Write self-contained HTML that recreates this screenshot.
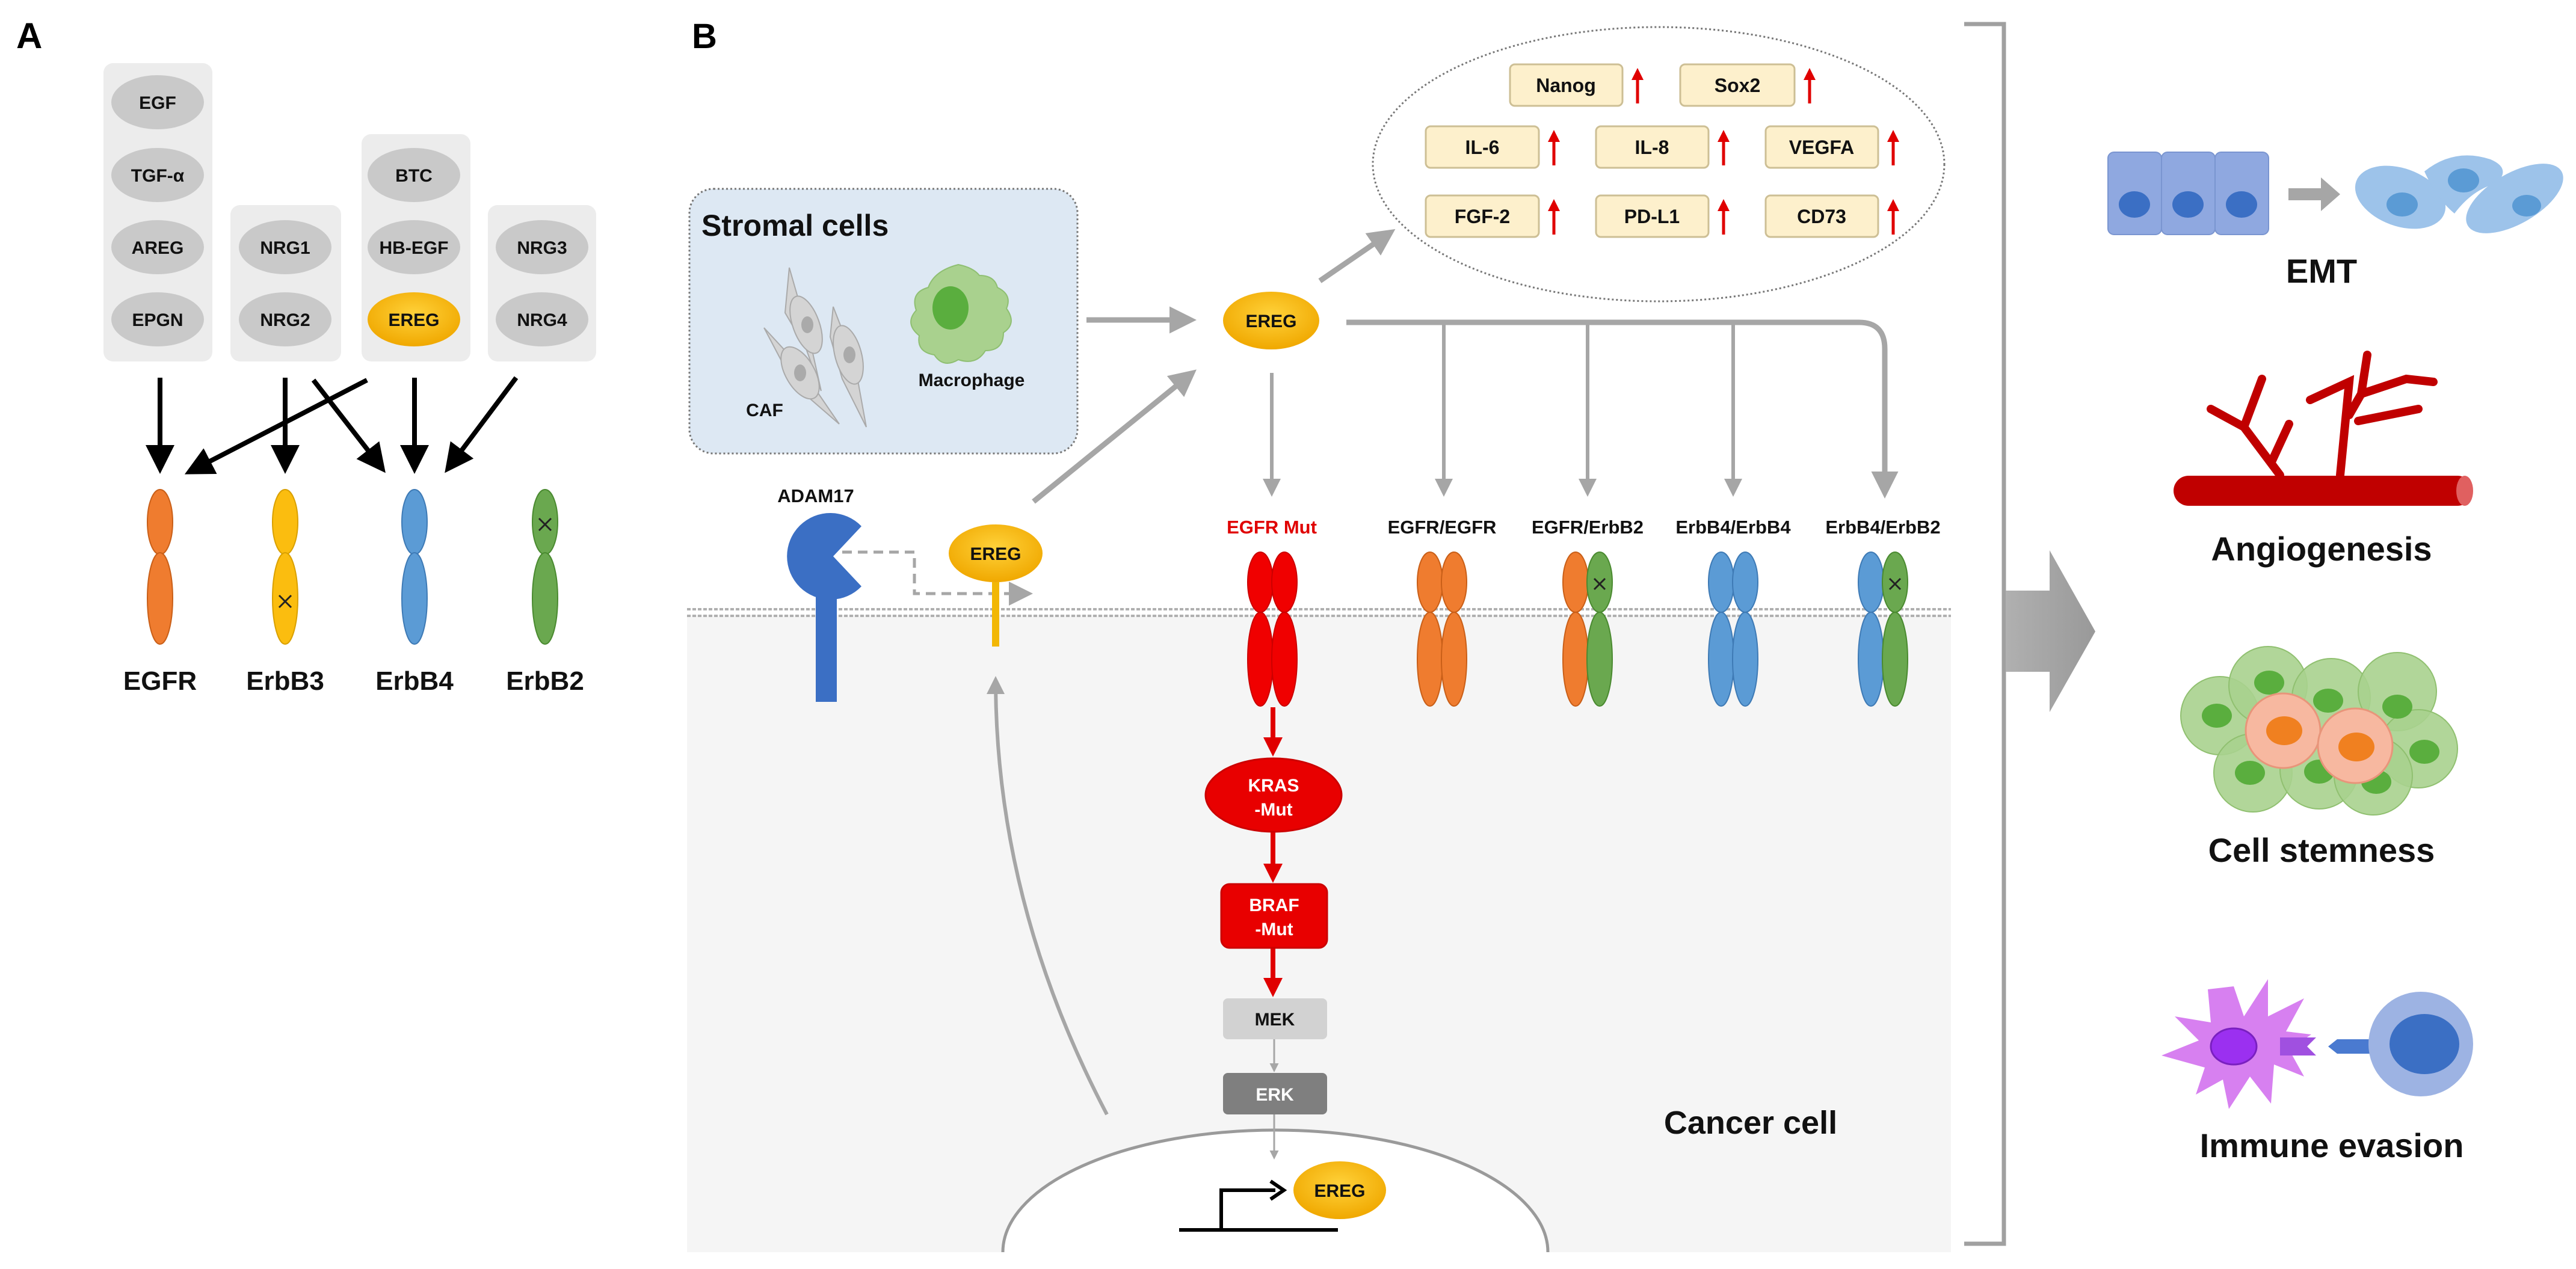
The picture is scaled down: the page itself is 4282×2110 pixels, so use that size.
<!DOCTYPE html>
<html><head><meta charset="utf-8"><style>
html,body{margin:0;padding:0;background:#fff;}
svg{display:block;font-family:"Liberation Sans",Arial,sans-serif;font-weight:bold;}
</style></head><body>
<svg width="4282" height="2110" viewBox="0 0 4282 2110" xmlns="http://www.w3.org/2000/svg">
<defs>
<marker id="ab" markerWidth="6" markerHeight="6" refX="5" refY="3" orient="auto" markerUnits="strokeWidth"><path d="M0,0 L6,3 L0,6 z" fill="#000"/></marker>
<marker id="ag" markerWidth="5" markerHeight="5" refX="4" refY="2.5" orient="auto" markerUnits="strokeWidth"><path d="M0,0 L5,2.5 L0,5 z" fill="#a6a6a6"/></marker>
<marker id="agt" markerWidth="8" markerHeight="8" refX="7" refY="4" orient="auto" markerUnits="strokeWidth"><path d="M0,0 L8,4 L0,8 z" fill="#a6a6a6"/></marker>
<marker id="ar" markerWidth="4" markerHeight="4" refX="3" refY="2" orient="auto" markerUnits="strokeWidth"><path d="M0,0 L4,2 L0,4 z" fill="#e00000"/></marker>
<marker id="ak" markerWidth="5" markerHeight="5" refX="4" refY="2.5" orient="auto" markerUnits="strokeWidth"><path d="M0,0 L5,2.5 L0,5 z" fill="#000"/></marker>
<radialGradient id="yg" cx="50%" cy="40%" r="60%"><stop offset="0" stop-color="#ffd23a"/><stop offset="1" stop-color="#f0a800"/></radialGradient>
<linearGradient id="bg" x1="0" x2="1"><stop offset="0" stop-color="#b0b0b0"/><stop offset="1" stop-color="#999"/></linearGradient>
</defs>

<!-- Panel A -->
<text x="27" y="80" font-size="60">A</text>
<g fill="#ececec">
<rect x="172" y="105" width="181" height="496" rx="16"/>
<rect x="383" y="341" width="184" height="260" rx="16"/>
<rect x="601" y="223" width="181" height="378" rx="16"/>
<rect x="811" y="341" width="180" height="260" rx="16"/>
</g>
<g fill="#c9c9c9">
<ellipse cx="262" cy="170" rx="77" ry="45"/><ellipse cx="262" cy="291" rx="77" ry="45"/>
<ellipse cx="262" cy="411" rx="77" ry="45"/><ellipse cx="262" cy="531" rx="77" ry="45"/>
<ellipse cx="474" cy="411" rx="77" ry="45"/><ellipse cx="474" cy="531" rx="77" ry="45"/>
<ellipse cx="688" cy="291" rx="77" ry="45"/><ellipse cx="688" cy="411" rx="77" ry="45"/>
<ellipse cx="901" cy="411" rx="77" ry="45"/><ellipse cx="901" cy="531" rx="77" ry="45"/>
</g>
<ellipse cx="688" cy="531" rx="77" ry="45" fill="url(#yg)"/>
<g font-size="30" text-anchor="middle" fill="#111">
<text x="262" y="181">EGF</text><text x="262" y="302">TGF-α</text><text x="262" y="422">AREG</text><text x="262" y="542">EPGN</text>
<text x="474" y="422">NRG1</text><text x="474" y="542">NRG2</text>
<text x="688" y="302">BTC</text><text x="688" y="422">HB-EGF</text><text x="688" y="542">EREG</text>
<text x="901" y="422">NRG3</text><text x="901" y="542">NRG4</text>
</g>
<g stroke="#000" stroke-width="8" marker-end="url(#ab)">
<line x1="266" y1="628" x2="266" y2="780"/>
<line x1="610" y1="632" x2="314" y2="785"/>
<line x1="474" y1="628" x2="474" y2="780"/>
<line x1="521" y1="632" x2="636" y2="780"/>
<line x1="689" y1="628" x2="689" y2="780"/>
<line x1="858" y1="628" x2="744" y2="780"/>
</g>
<g stroke-width="2">
<ellipse cx="266" cy="868" rx="21" ry="54" fill="#ef7c2f" stroke="#c95f18"/><ellipse cx="266" cy="995" rx="21" ry="76" fill="#ef7c2f" stroke="#c95f18"/>
<ellipse cx="474" cy="868" rx="21" ry="54" fill="#fbbd0f" stroke="#d9a000"/><ellipse cx="474" cy="995" rx="21" ry="76" fill="#fbbd0f" stroke="#d9a000"/>
<ellipse cx="689" cy="868" rx="21" ry="54" fill="#5b9bd5" stroke="#3e7ab5"/><ellipse cx="689" cy="995" rx="21" ry="76" fill="#5b9bd5" stroke="#3e7ab5"/>
<ellipse cx="906" cy="868" rx="21" ry="54" fill="#6aa84f" stroke="#4a8a30"/><ellipse cx="906" cy="995" rx="21" ry="76" fill="#6aa84f" stroke="#4a8a30"/>
</g>
<g stroke="#222" stroke-width="3"><path d="M464,990 l20,20 M484,990 l-20,20"/><path d="M896,862 l20,20 M916,862 l-20,20"/></g>
<g font-size="44" text-anchor="middle" fill="#111">
<text x="266" y="1147">EGFR</text><text x="474" y="1147">ErbB3</text><text x="689" y="1147">ErbB4</text><text x="906" y="1147">ErbB2</text>
</g>

<!-- Panel B -->
<text x="1150" y="80" font-size="58">B</text>
<rect x="1142" y="1022" width="2101" height="1060" fill="#f5f5f5"/>
<!-- membrane -->
<line x1="1142" y1="1013" x2="3243" y2="1013" stroke="#b0b0b0" stroke-width="4" stroke-dasharray="6 3"/>
<line x1="1142" y1="1024" x2="3243" y2="1024" stroke="#b0b0b0" stroke-width="4" stroke-dasharray="6 3"/>
<!-- nucleus -->
<path d="M1667,2082 A453,203 0 0 1 2573,2082" fill="#fff" stroke="#9a9a9a" stroke-width="5"/>

<!-- stromal -->
<rect x="1146" y="314" width="645" height="440" rx="40" fill="#dde8f3" stroke="#777" stroke-width="3" stroke-dasharray="3 4"/>
<text x="1166" y="392" font-size="50" fill="#111">Stromal cells</text>
<g fill="#d4d4d4" stroke="#aaa" stroke-width="2">
<path d="M1312,445 L1345,560 L1365,650 L1340,580 L1305,520z"/>
<ellipse cx="1340" cy="540" rx="22" ry="50" transform="rotate(-20 1340 540)"/>
<path d="M1270,545 L1330,610 L1395,705 L1320,640z"/>
<ellipse cx="1330" cy="620" rx="24" ry="48" transform="rotate(-30 1330 620)"/>
<path d="M1385,510 L1420,600 L1440,710 L1400,630 L1380,560z"/>
<ellipse cx="1410" cy="590" rx="22" ry="50" transform="rotate(-15 1410 590)"/>
</g>
<g fill="#aaa"><ellipse cx="1342" cy="540" rx="10" ry="14"/><ellipse cx="1330" cy="620" rx="10" ry="14"/><ellipse cx="1412" cy="590" rx="10" ry="14"/></g>
<path d="M1593,440 q25,5 35,18 q25,0 30,20 q25,12 15,35 q18,25 -5,40 q0,30 -30,30 q-15,25 -45,15 q-25,15 -40,-8 q-30,-5 -25,-32 q-25,-20 -5,-42 q-10,-30 20,-38 q10,-28 50,-38z" fill="#a9d18e" stroke="#8fbf72" stroke-width="2"/>
<ellipse cx="1580" cy="512" rx="30" ry="36" fill="#5aae3e"/>
<text x="1271" y="692" font-size="30" text-anchor="middle" fill="#111">CAF</text>
<text x="1615" y="642" font-size="30" text-anchor="middle" fill="#111">Macrophage</text>

<!-- gray arrows -->
<g stroke="#a6a6a6" stroke-width="9" fill="none">
<line x1="1806" y1="532" x2="1980" y2="532" marker-end="url(#ag)"/>
<line x1="2194" y1="467" x2="2312" y2="386" marker-end="url(#ag)"/>
<line x1="1718" y1="834" x2="1982" y2="620" marker-end="url(#ag)"/>
<path d="M2238,536 H3090 Q3133,536 3133,580 V820" marker-end="url(#ag)"/>
<line x1="2400" y1="536" x2="2400" y2="820" marker-end="url(#ag)" stroke-width="6"/>
<line x1="2639" y1="536" x2="2639" y2="820" marker-end="url(#ag)" stroke-width="6"/>
<line x1="2881" y1="536" x2="2881" y2="820" marker-end="url(#ag)" stroke-width="6"/>
<line x1="2114" y1="620" x2="2114" y2="820" marker-end="url(#ag)" stroke-width="6"/>
<path d="M1840,1853 Q1655,1500 1655,1130" stroke-width="6" marker-end="url(#ag)"/>
</g>
<ellipse cx="2113" cy="533" rx="80" ry="48" fill="url(#yg)"/>
<text x="2113" y="544" font-size="30" text-anchor="middle" fill="#111">EREG</text>

<!-- dotted oval -->
<ellipse cx="2757" cy="273" rx="475" ry="228" fill="none" stroke="#777" stroke-width="3" stroke-dasharray="3 4"/>
<g fill="#fdf0cc" stroke="#cdbf95" stroke-width="3">
<rect x="2510" y="107" width="187" height="69" rx="8"/><rect x="2793" y="107" width="190" height="69" rx="8"/>
<rect x="2370" y="210" width="188" height="69" rx="8"/><rect x="2653" y="210" width="187" height="69" rx="8"/><rect x="2935" y="210" width="187" height="69" rx="8"/>
<rect x="2370" y="325" width="188" height="69" rx="8"/><rect x="2653" y="325" width="187" height="69" rx="8"/><rect x="2935" y="325" width="187" height="69" rx="8"/>
</g>
<g font-size="32" text-anchor="middle" fill="#111">
<text x="2603" y="153">Nanog</text><text x="2888" y="153">Sox2</text>
<text x="2464" y="256">IL-6</text><text x="2746" y="256">IL-8</text><text x="3028" y="256">VEGFA</text>
<text x="2464" y="371">FGF-2</text><text x="2746" y="371">PD-L1</text><text x="3028" y="371">CD73</text>
</g>
<g stroke="#e00000" stroke-width="5" marker-end="url(#ar)">
<line x1="2722" y1="172" x2="2722" y2="118"/><line x1="3008" y1="172" x2="3008" y2="118"/>
<line x1="2583" y1="275" x2="2583" y2="221"/><line x1="2865" y1="275" x2="2865" y2="221"/><line x1="3147" y1="275" x2="3147" y2="221"/>
<line x1="2583" y1="390" x2="2583" y2="336"/><line x1="2865" y1="390" x2="2865" y2="336"/><line x1="3147" y1="390" x2="3147" y2="336"/>
</g>

<!-- receptor labels -->
<g font-size="31" text-anchor="middle" fill="#111">
<text x="2114" y="887" fill="#e00000">EGFR Mut</text>
<text x="2397" y="887">EGFR/EGFR</text><text x="2639" y="887">EGFR/ErbB2</text><text x="2881" y="887">ErbB4/ErbB4</text><text x="3130" y="887">ErbB4/ErbB2</text>
<text x="1356" y="835">ADAM17</text>
</g>
<!-- dimers -->
<g stroke-width="2">
<g fill="#f00000" stroke="#c00"><ellipse cx="2095" cy="968" rx="21" ry="50"/><ellipse cx="2095" cy="1096" rx="21" ry="78"/><ellipse cx="2135" cy="968" rx="21" ry="50"/><ellipse cx="2135" cy="1096" rx="21" ry="78"/></g>
<g fill="#ef7c2f" stroke="#c95f18"><ellipse cx="2377" cy="968" rx="21" ry="50"/><ellipse cx="2377" cy="1096" rx="21" ry="78"/><ellipse cx="2417" cy="968" rx="21" ry="50"/><ellipse cx="2417" cy="1096" rx="21" ry="78"/>
<ellipse cx="2619" cy="968" rx="21" ry="50"/><ellipse cx="2619" cy="1096" rx="21" ry="78"/></g>
<g fill="#6aa84f" stroke="#4a8a30"><ellipse cx="2659" cy="968" rx="21" ry="50"/><ellipse cx="2659" cy="1096" rx="21" ry="78"/></g>
<g fill="#5b9bd5" stroke="#3e7ab5"><ellipse cx="2861" cy="968" rx="21" ry="50"/><ellipse cx="2861" cy="1096" rx="21" ry="78"/><ellipse cx="2901" cy="968" rx="21" ry="50"/><ellipse cx="2901" cy="1096" rx="21" ry="78"/>
<ellipse cx="3110" cy="968" rx="21" ry="50"/><ellipse cx="3110" cy="1096" rx="21" ry="78"/></g>
<g fill="#6aa84f" stroke="#4a8a30"><ellipse cx="3150" cy="968" rx="21" ry="50"/><ellipse cx="3150" cy="1096" rx="21" ry="78"/></g>
</g>
<g stroke="#222" stroke-width="3"><path d="M2650,962 l18,18 M2668,962 l-18,18"/><path d="M3141,962 l18,18 M3159,962 l-18,18"/></g>

<!-- ADAM17 -->
<path d="M1432,875 A72,72 0 1 0 1432,975 L1385,925 Z" fill="#3b6fc4"/>
<rect x="1356" y="980" width="35" height="187" fill="#3b6fc4"/>
<path d="M1400,918 H1520 V987 H1712" stroke="#a6a6a6" stroke-width="5" fill="none" stroke-dasharray="16 10" marker-end="url(#agt)"/>
<ellipse cx="1655" cy="920" rx="78" ry="48" fill="url(#yg)"/>
<rect x="1649" y="968" width="12" height="107" fill="#f2b705"/>
<text x="1655" y="931" font-size="30" text-anchor="middle" fill="#111">EREG</text>

<!-- cascade -->
<g stroke="#e00000" stroke-width="8" marker-end="url(#ar)">
<line x1="2116" y1="1176" x2="2116" y2="1250"/><line x1="2116" y1="1383" x2="2116" y2="1460"/><line x1="2116" y1="1576" x2="2116" y2="1650"/>
</g>
<ellipse cx="2117" cy="1322" rx="113" ry="61" fill="#e80000" stroke="#c00" stroke-width="3"/>
<text x="2117" y="1316" font-size="30" text-anchor="middle" fill="#fff">KRAS</text><text x="2117" y="1356" font-size="30" text-anchor="middle" fill="#fff">-Mut</text>
<rect x="2030" y="1470" width="176" height="106" rx="14" fill="#e80000" stroke="#c00" stroke-width="3"/>
<text x="2118" y="1515" font-size="30" text-anchor="middle" fill="#fff">BRAF</text><text x="2118" y="1555" font-size="30" text-anchor="middle" fill="#fff">-Mut</text>
<rect x="2033" y="1660" width="173" height="68" rx="8" fill="#d2d2d2"/>
<text x="2119" y="1705" font-size="30" text-anchor="middle" fill="#111">MEK</text>
<g stroke="#a6a6a6" stroke-width="3" marker-end="url(#ag)"><line x1="2118" y1="1728" x2="2118" y2="1780"/><line x1="2118" y1="1853" x2="2118" y2="1925"/></g>
<rect x="2033" y="1784" width="173" height="69" rx="8" fill="#7f7f7f"/>
<text x="2119" y="1830" font-size="30" text-anchor="middle" fill="#fff">ERK</text>
<path d="M1960,2045 H2224 M2030,2045 V1979 H2120" stroke="#000" stroke-width="6" fill="none"/>
<path d="M2112,1964 L2134,1979 L2112,1994" stroke="#000" stroke-width="6" fill="none"/>
<ellipse cx="2227" cy="1979" rx="77" ry="48" fill="url(#yg)"/>
<text x="2227" y="1990" font-size="30" text-anchor="middle" fill="#111">EREG</text>
<text x="2910" y="1885" font-size="54" text-anchor="middle" fill="#111">Cancer cell</text>

<!-- bracket -->
<path d="M3265,40 H3331 V2068 H3265" stroke="#a0a0a0" stroke-width="7" fill="none"/>
<path d="M3334,982 H3407 V915 L3483,1050 L3407,1184 V1117 H3334 Z" fill="url(#bg)"/>

<!-- EMT -->
<g fill="#8fa8e0" stroke="#7a95d0" stroke-width="2">
<rect x="3504" y="253" width="89" height="137" rx="10"/><rect x="3593" y="253" width="89" height="137" rx="10"/><rect x="3682" y="253" width="89" height="137" rx="10"/>
</g>
<g fill="#3b6fc4"><ellipse cx="3548" cy="340" rx="26" ry="22"/><ellipse cx="3637" cy="340" rx="26" ry="22"/><ellipse cx="3726" cy="340" rx="26" ry="22"/></g>
<path d="M3804,313 H3858 V295 L3890,323 L3858,351 V333 H3804Z" fill="#a6a6a6"/>
<g fill="#9dc3ea"><ellipse cx="3990" cy="328" rx="78" ry="48" transform="rotate(20 3990 328)"/>
<path d="M4030,285 Q4080,245 4140,265 Q4175,280 4150,305 Q4110,315 4080,355 Q4050,330 4030,285Z"/>
<ellipse cx="4180" cy="330" rx="90" ry="42" transform="rotate(-30 4180 330)"/></g>
<g fill="#5b9bd5"><ellipse cx="3993" cy="340" rx="26" ry="20"/><ellipse cx="4095" cy="300" rx="26" ry="20"/><ellipse cx="4200" cy="342" rx="24" ry="18"/></g>
<text x="3859" y="470" font-size="56" text-anchor="middle" fill="#111">EMT</text>

<!-- angiogenesis -->
<g stroke="#c00000" stroke-width="14" fill="none" stroke-linecap="round">
<path d="M3790,790 L3730,710 L3675,680 M3730,710 L3760,630 M3775,770 L3805,705"/>
<path d="M3890,790 L3905,635 L3840,665 M3905,690 L3925,655 L3935,590 M3925,655 L4000,630 L4045,635 M3920,700 L4020,680"/>
</g>
<rect x="3613" y="791" width="497" height="50" rx="25" fill="#c00000"/>
<ellipse cx="4097" cy="816" rx="14" ry="25" fill="#e06060"/>
<text x="3859" y="932" font-size="56" text-anchor="middle" fill="#111">Angiogenesis</text>

<!-- stemness -->
<g fill="#a9d18e" stroke="#90c070" stroke-width="2" fill-opacity="0.9">
<circle cx="3690" cy="1190" r="65"/><circle cx="3770" cy="1140" r="65"/><circle cx="3875" cy="1160" r="65"/><circle cx="3985" cy="1150" r="65"/>
<circle cx="4020" cy="1245" r="65"/><circle cx="3745" cy="1285" r="65"/><circle cx="3855" cy="1280" r="65"/><circle cx="3945" cy="1290" r="65"/>
</g>
<g fill="#5aae3e"><ellipse cx="3685" cy="1190" rx="25" ry="20"/><ellipse cx="3772" cy="1135" rx="25" ry="20"/><ellipse cx="3870" cy="1165" rx="25" ry="20"/><ellipse cx="3985" cy="1175" rx="25" ry="20"/><ellipse cx="4030" cy="1250" rx="25" ry="20"/><ellipse cx="3740" cy="1285" rx="25" ry="20"/><ellipse cx="3855" cy="1283" rx="25" ry="20"/><ellipse cx="3950" cy="1300" rx="25" ry="20"/></g>
<g fill="#f7b8a0" stroke="#e8957a" stroke-width="3"><circle cx="3795" cy="1215" r="62"/><circle cx="3915" cy="1240" r="62"/></g>
<g fill="#f08020"><ellipse cx="3797" cy="1215" rx="30" ry="24"/><ellipse cx="3917" cy="1242" rx="30" ry="24"/></g>
<text x="3859" y="1433" font-size="56" text-anchor="middle" fill="#111">Cell stemness</text>

<!-- immune -->
<path d="M3713,1640 L3730,1690 L3770,1628 L3770,1690 L3830,1660 L3800,1715 L3842,1720 L3805,1745 L3830,1790 L3780,1770 L3775,1835 L3740,1790 L3705,1844 L3695,1795 L3650,1820 L3665,1775 L3593,1755 L3655,1730 L3615,1690 L3675,1700 L3670,1645 Z" fill="#d780f0"/>
<ellipse cx="3713" cy="1740" rx="38" ry="30" fill="#9b30f0" stroke="#7a20c0" stroke-width="3"/>
<path d="M3790,1725 H3850 L3835,1740 L3850,1755 H3790Z" fill="#a050e0"/>
<path d="M3870,1740 L3885,1728 H3950 V1752 H3885Z" fill="#4a7ad0"/>
<ellipse cx="4024" cy="1736" rx="87" ry="87" fill="#9db3e3"/>
<ellipse cx="4030" cy="1736" rx="58" ry="50" fill="#3b6fc4"/>
<text x="3876" y="1924" font-size="56" text-anchor="middle" fill="#111">Immune evasion</text>
</svg>
</body></html>
